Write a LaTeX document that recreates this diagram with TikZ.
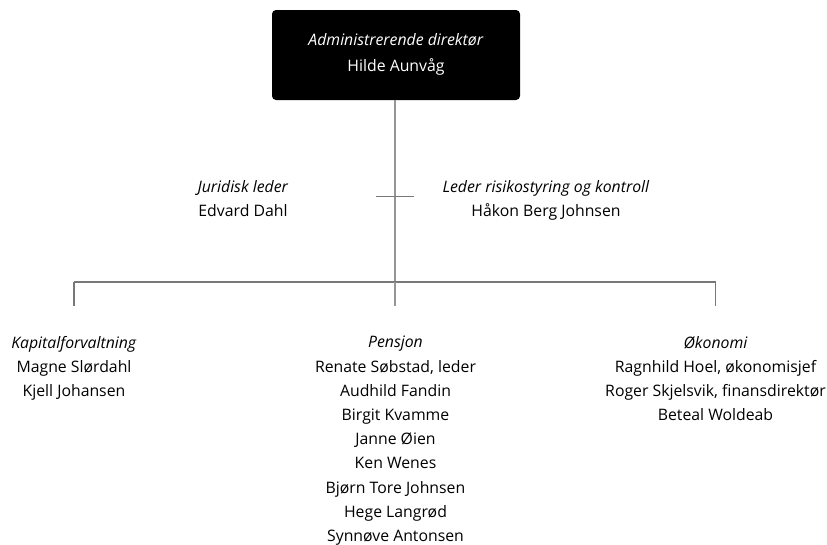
\documentclass[tikz,border=0pt]{standalone}
\usepackage{fontspec}
\setmainfont{Open Sans}
\begin{document}
\begin{tikzpicture}[x=1pt,y=-1pt,
  vline/.style={draw=vgray,line width=1.6pt},
  hline/.style={draw=hgray,line width=1.1pt},
  txt/.style={align=center,font=\fontsize{15.8}{24.2}\selectfont,inner sep=0pt,anchor=north},
  ]
\definecolor{vgray}{RGB}{150,150,150}
\definecolor{hgray}{RGB}{120,120,120}
\useasboundingbox[fill=white] (0,0) rectangle (827,544);
\node[fill=black,rounded corners=4pt,minimum width=248pt,minimum height=90pt,inner sep=0pt] (ceo) at (396,55) {};
\node[txt,text=white,font=\fontsize{15.8}{26}\selectfont] (ceot) at (396,33) {\textit{Administrerende direktør}\\Hilde Aunvåg};
\coordinate (top) at (395,100);
\coordinate (junc) at (395,282);
\coordinate (tl) at (376,196.5);
\coordinate (tr) at (414,196.5);
\coordinate (jl) at (74,282);
\coordinate (jr) at (715.5,282);
\coordinate (el) at (74,306);
\coordinate (em) at (395,306);
\coordinate (er) at (715.5,306);
\draw[vline] (top) -- (junc);
\draw[hline] (tl) -- (tr);
\draw[hline] (jl) -- (jr);
\draw[hline] (jl) -- (el);
\draw[vline] (junc) -- (em);
\draw[hline] (jr) -- (er);
\node[txt] (jur) at (243,180) {\textit{Juridisk leder}\\Edvard Dahl};
\node[txt] (ris) at (546,180) {\textit{Leder risikostyring og kontroll}\\Håkon Berg Johnsen};
\node[txt] (kap) at (74,336) {\textit{Kapitalforvaltning}\\Magne Slørdahl\\Kjell Johansen};
\node[txt] (pen) at (395.5,336) {\textit{Pensjon}\\Renate Søbstad, leder\\Audhild Fandin\\Birgit Kvamme\\Janne Øien\\Ken Wenes\\Bjørn Tore Johnsen\\Hege Langrød\\Synnøve Antonsen};
\node[txt] (oko) at (715.5,336) {\textit{Økonomi}\\Ragnhild Hoel, økonomisjef\\Roger Skjelsvik, finansdirektør\\Beteal Woldeab};
\end{tikzpicture}
\end{document}
